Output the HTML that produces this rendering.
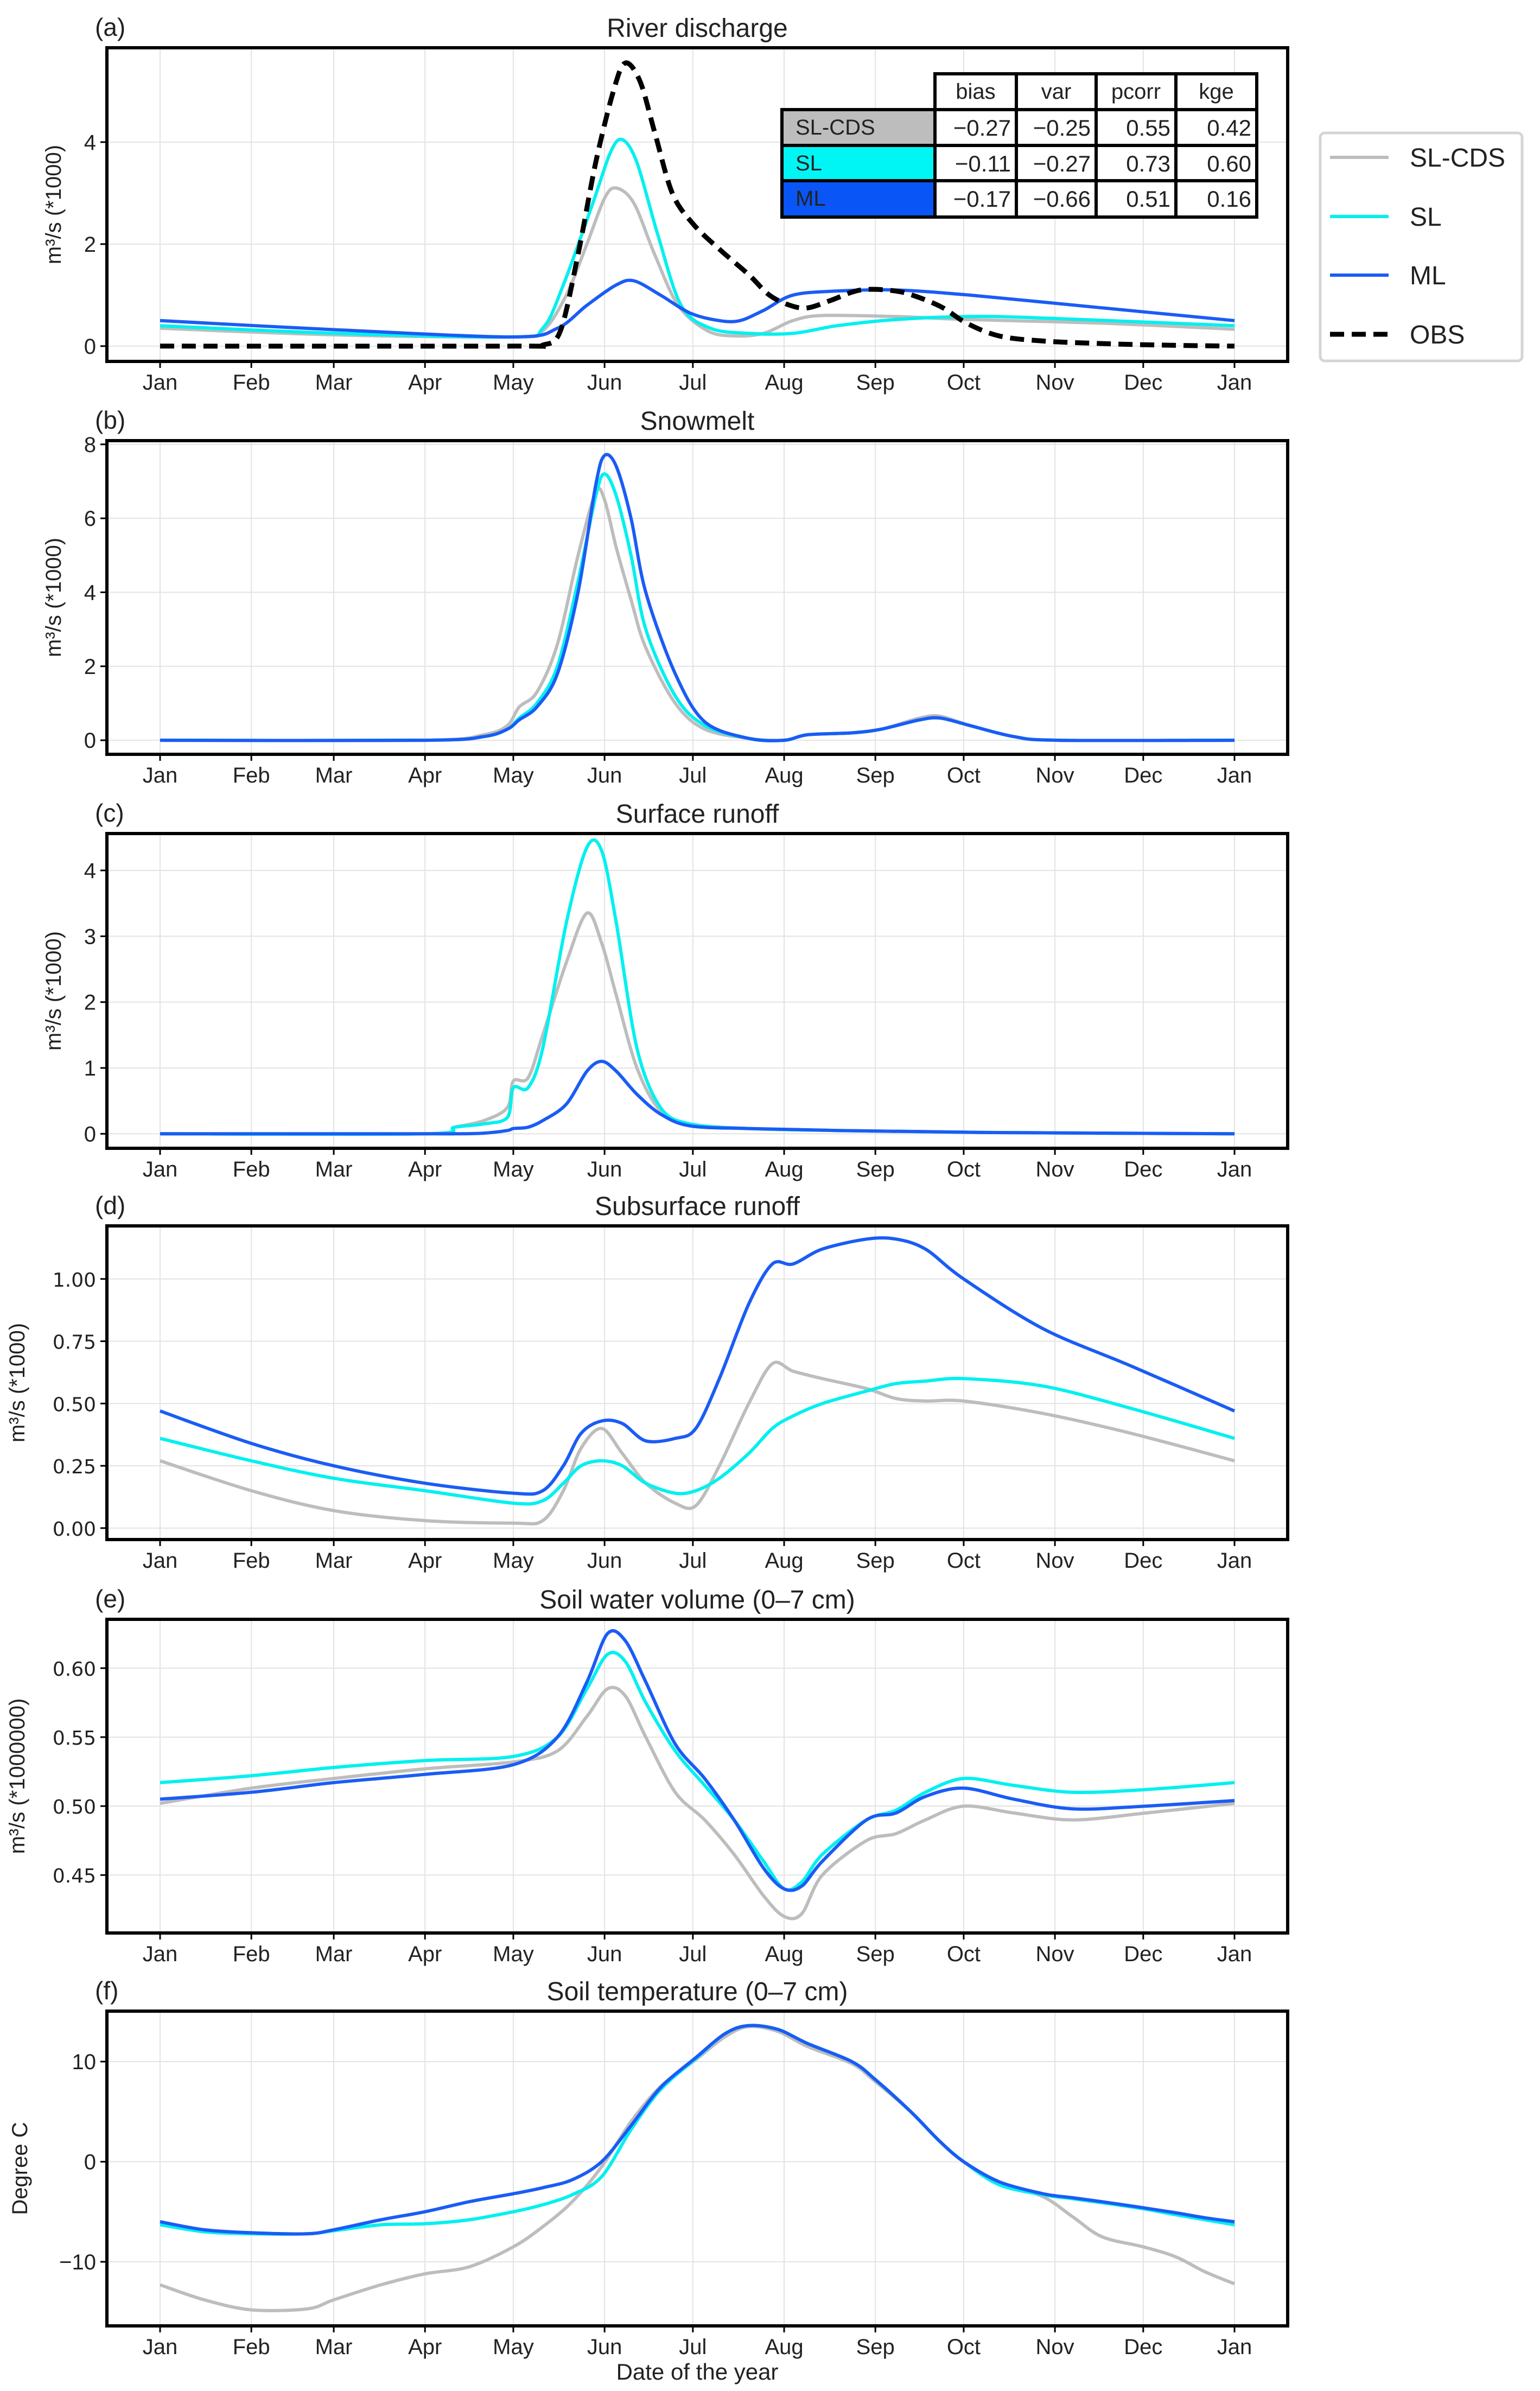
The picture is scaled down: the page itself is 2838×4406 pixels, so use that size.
<!DOCTYPE html>
<html><head><meta charset="utf-8">
<style>
html,body{margin:0;padding:0;background:#fff;}
svg{display:block;}
text{font-family:"Liberation Sans",sans-serif;fill:#222;}
</style></head>
<body>
<svg id="fig" width="2838" height="4406" viewBox="0 0 2838 4406" xmlns="http://www.w3.org/2000/svg"></svg>
<script>
// ---- data ----
const monthLabels = ["Jan","Feb","Mar","Apr","May","Jun","Jul","Aug","Sep","Oct","Nov","Dec","Jan"];
const monthDays = [0,31,59,90,120,151,181,212,243,273,304,334,365];
const seriesNames = ["SL-CDS","SL","ML","OBS"];

// (a) River discharge
const a_days_obs = [0,120,130,136,142,148,154,158,163,168,174,181,190,200,207,214,220,228,238,250,258,266,274,285,300,320,340,365];
const a_obs = [0,0,0.02,0.3,1.8,3.6,5.0,5.55,5.2,4.2,3.0,2.4,1.9,1.4,1.0,0.8,0.75,0.9,1.1,1.08,0.95,0.75,0.45,0.2,0.1,0.05,0.02,0];
const a_days_gray = [0,60,120,130,138,145,151,155,161,168,176,186,195,205,215,225,250,275,320,365];
const a_gray = [0.35,0.22,0.18,0.3,1.0,2.0,2.9,3.1,2.8,1.8,0.8,0.3,0.2,0.25,0.5,0.6,0.58,0.52,0.45,0.33];
const a_days_sl = [0,60,120,130,137,147,153,157,162,169,177,187,200,215,230,250,275,300,365];
const a_sl = [0.4,0.25,0.18,0.35,1.2,2.8,3.8,4.05,3.6,2.2,0.8,0.35,0.25,0.25,0.4,0.52,0.58,0.55,0.4];
const a_days_ml = [0,60,120,135,145,155,161,170,180,190,197,205,215,230,250,275,320,365];
const a_ml = [0.5,0.32,0.18,0.35,0.8,1.2,1.28,1.0,0.65,0.5,0.5,0.7,1.0,1.08,1.1,1.0,0.75,0.5];

// (b) Snowmelt
const b_days = [0,90,110,118,122,128,135,142,148,151,155,160,165,175,185,200,212,220,235,245,258,265,275,290,305,365];
const b_gray = [0,0,0.15,0.4,0.9,1.3,2.6,5.0,6.7,6.5,5.2,3.8,2.5,1.0,0.3,0.05,0,0.15,0.2,0.3,0.6,0.65,0.4,0.1,0,0];
const b_sl = [0,0,0.1,0.3,0.6,1.0,2.0,4.3,6.6,7.2,6.6,5.0,3.0,1.2,0.4,0.05,0,0.15,0.2,0.3,0.55,0.6,0.4,0.1,0,0];
const b_ml = [0,0,0.1,0.3,0.55,0.9,1.8,4.0,6.9,7.7,7.4,6.0,4.0,1.8,0.5,0.05,0,0.15,0.2,0.3,0.55,0.6,0.4,0.1,0,0];

// (c) Surface runoff
const c_days = [0,90,100,110,118,120,125,130,138,145,150,155,162,170,180,200,230,280,365];
const c_gray = [0,0,0.1,0.2,0.4,0.8,0.85,1.5,2.6,3.35,2.9,2.1,1.0,0.35,0.15,0.08,0.05,0.02,0];
const c_sl = [0,0,0.1,0.15,0.25,0.7,0.7,1.3,3.2,4.35,4.3,3.2,1.3,0.4,0.15,0.08,0.05,0.02,0];
const c_ml = [0,0,0,0.01,0.05,0.08,0.1,0.2,0.45,0.95,1.1,0.95,0.6,0.3,0.12,0.08,0.05,0.02,0];

// (d) Subsurface runoff
const d_days = [0,31,59,90,120,130,137,143,150,157,165,175,182,190,200,208,215,225,240,250,260,273,300,330,365];
const d_gray = [0.27,0.15,0.07,0.03,0.02,0.03,0.15,0.32,0.4,0.3,0.18,0.1,0.09,0.25,0.5,0.66,0.63,0.6,0.56,0.52,0.51,0.51,0.46,0.38,0.27];
const d_sl = [0.36,0.27,0.2,0.15,0.1,0.11,0.18,0.25,0.27,0.25,0.18,0.14,0.15,0.2,0.3,0.4,0.45,0.5,0.55,0.58,0.59,0.6,0.57,0.48,0.36];
const d_ml = [0.47,0.34,0.25,0.18,0.14,0.15,0.25,0.38,0.43,0.42,0.35,0.36,0.4,0.6,0.9,1.06,1.06,1.12,1.16,1.16,1.12,1.0,0.8,0.65,0.47];

// (e) Soil water volume
const e_days = [0,31,59,90,120,135,145,152,158,165,175,185,195,205,212,218,225,240,250,260,273,290,310,335,365];
const e_gray = [0.502,0.513,0.52,0.527,0.532,0.54,0.565,0.585,0.58,0.55,0.51,0.49,0.465,0.435,0.42,0.422,0.45,0.475,0.48,0.49,0.5,0.495,0.49,0.495,0.502];
const e_sl = [0.517,0.522,0.528,0.533,0.536,0.55,0.585,0.61,0.605,0.575,0.54,0.515,0.49,0.46,0.44,0.445,0.465,0.49,0.497,0.51,0.52,0.515,0.51,0.512,0.517];
const e_ml = [0.505,0.51,0.517,0.523,0.53,0.55,0.59,0.625,0.62,0.59,0.545,0.52,0.49,0.455,0.44,0.442,0.46,0.49,0.495,0.507,0.513,0.505,0.498,0.5,0.504];

// (f) Soil temperature
const f_days = [0,15,31,50,59,75,90,105,120,130,140,150,160,170,182,192,200,210,220,235,243,255,265,273,285,300,310,320,334,345,355,365];
const f_gray = [-12.3,-13.8,-14.8,-14.7,-13.8,-12.3,-11.2,-10.5,-8.5,-6.5,-4,-0.5,4,7.5,10.2,12.5,13.5,13,11.5,9.8,8,5,2,0,-2,-3.5,-5.5,-7.5,-8.5,-9.5,-11,-12.2];
const f_sl = [-6.3,-7.0,-7.2,-7.2,-6.9,-6.3,-6.2,-5.8,-5,-4.3,-3.3,-1.5,3.2,7.2,10.3,12.8,13.6,13.2,11.8,10,8.2,5,2,0,-2.3,-3.3,-3.7,-4.1,-4.7,-5.3,-5.8,-6.3];
const f_ml = [-6,-6.8,-7.1,-7.2,-6.8,-5.8,-5,-4,-3.2,-2.6,-1.8,0,3.6,7.4,10.4,12.8,13.6,13.2,11.8,10,8.2,5,2,0,-2,-3.2,-3.6,-4,-4.6,-5.1,-5.6,-6];

const a_yticks = [0,2,4], b_yticks=[0,2,4,6,8], c_yticks=[0,1,2,3,4];
const d_yticks = [0,0.25,0.5,0.75,1.0], e_yticks=[0.45,0.5,0.55,0.6], f_yticks=[-10,0,10];
const d_ylabels = ["0.00","0.25","0.50","0.75","1.00"], e_ylabels=["0.45","0.50","0.55","0.60"];

const tableCols = ["bias","var","pcorr","kge"];
const tableRows = ["SL-CDS","SL","ML"];
const tableVals = [["−0.27","−0.25","0.55","0.42"],["−0.11","−0.27","0.73","0.60"],["−0.17","−0.66","0.51","0.16"]];

// ---- layout ----
const NS="http://www.w3.org/2000/svg";
const svg=document.getElementById('fig');
const X0=197, X1=2373, DAY0=295, DAY1=2275;
const COL={gray:"#bdbdbd", sl:"#00f0f0", ml:"#1a5cf5", obs:"#000"};
function el(tag,attrs,parent){const e=document.createElementNS(NS,tag);for(const k in attrs)e.setAttribute(k,attrs[k]);(parent||svg).appendChild(e);return e;}
function xs(d){return DAY0+(d/365)*(DAY1-DAY0);}
function smoothPath(pts){
  let s="M"+pts[0][0].toFixed(1)+","+pts[0][1].toFixed(1);
  for(let i=0;i<pts.length-1;i++){
    const p0=pts[Math.max(0,i-1)],p1=pts[i],p2=pts[i+1],p3=pts[Math.min(pts.length-1,i+2)];
    const t=0.16;
    const c1=[p1[0]+(p2[0]-p0[0])*t,p1[1]+(p2[1]-p0[1])*t];
    const c2=[p2[0]-(p3[0]-p1[0])*t,p2[1]-(p3[1]-p1[1])*t];
    s+="C"+c1[0].toFixed(1)+","+c1[1].toFixed(1)+" "+c2[0].toFixed(1)+","+c2[1].toFixed(1)+" "+p2[0].toFixed(1)+","+p2[1].toFixed(1);
  }
  return s;
}
const panels=[
 {id:"a",title:"River discharge",top:88,bot:666,ymin:-0.3,ymax:5.85,ticks:a_yticks,labels:null,ylab:"m³/s (*1000)",ylx:112,
  series:[["gray",a_days_gray,a_gray],["sl",a_days_sl,a_sl],["ml",a_days_ml,a_ml],["obs",a_days_obs,a_obs]]},
 {id:"b",title:"Snowmelt",top:812,bot:1390,ymin:-0.38,ymax:8.1,ticks:b_yticks,labels:null,ylab:"m³/s (*1000)",ylx:112,
  series:[["gray",b_days,b_gray],["sl",b_days,b_sl],["ml",b_days,b_ml]]},
 {id:"c",title:"Surface runoff",top:1536,bot:2116,ymin:-0.22,ymax:4.56,ticks:c_yticks,labels:null,ylab:"m³/s (*1000)",ylx:112,
  series:[["gray",c_days,c_gray],["sl",c_days,c_sl],["ml",c_days,c_ml]]},
 {id:"d",title:"Subsurface runoff",top:2259,bot:2837,ymin:-0.046,ymax:1.213,ticks:d_yticks,labels:d_ylabels,ylab:"m³/s (*1000)",ylx:45,
  series:[["gray",d_days,d_gray],["sl",d_days,d_sl],["ml",d_days,d_ml]]},
 {id:"e",title:"Soil water volume (0–7 cm)",top:2984,bot:3562,ymin:0.408,ymax:0.6354,ticks:e_yticks,labels:e_ylabels,ylab:"m³/s (*1000000)",ylx:45,
  series:[["gray",e_days,e_gray],["sl",e_days,e_sl],["ml",e_days,e_ml]]},
 {id:"f",title:"Soil temperature (0–7 cm)",top:3706,bot:4286,ymin:-16.4,ymax:15.04,ticks:f_yticks,labels:null,ylab:"Degree C",ylx:50,
  series:[["gray",f_days,f_gray],["sl",f_days,f_sl],["ml",f_days,f_ml]]}
];
panels.forEach(p=>{
  const g=el('g',{});
  
  
  const ys=v=>p.bot-(v-p.ymin)/(p.ymax-p.ymin)*(p.bot-p.top);
  monthDays.forEach(d=>{const l=el('line',{x1:xs(d),x2:xs(d),y1:p.top,y2:p.bot,stroke:"#e3e3e3","stroke-width":2},g);
    });
  p.ticks.forEach((v,i)=>{
    const l=el('line',{x1:X0,x2:X1,y1:ys(v),y2:ys(v),stroke:"#e3e3e3","stroke-width":2},g);
    
    el('line',{x1:X0-12,x2:X0,y1:ys(v),y2:ys(v),stroke:"#000","stroke-width":3},g);
    const t=el('text',{x:X0-20,y:ys(v)+14,"text-anchor":"end","font-size":40,style:p.labels?'font-family:"DejaVu Sans",sans-serif;font-size:36px':''},g);
    t.textContent=p.labels?p.labels[i]:(v<0?"−"+Math.abs(v):String(v));
    
  });
  monthDays.forEach((d,i)=>{
    el('line',{x1:xs(d),x2:xs(d),y1:p.bot,y2:p.bot+12,stroke:"#000","stroke-width":3},g);
    const t=el('text',{x:xs(d),y:p.bot+52,"text-anchor":"middle","font-size":40},g);
    t.textContent=monthLabels[i];
    
  });
  p.series.forEach(s=>{
    const pts=s[1].map((d,i)=>[xs(d),ys(s[2][i])]);
    const attrs={d:smoothPath(pts),fill:"none",stroke:COL[s[0]],"stroke-width":s[0]=="obs"?9:6,"stroke-linejoin":"round"};
    if(s[0]=="obs")attrs["stroke-dasharray"]="26 14";
    const path=el('path',attrs,g);
    
    
  });
  const fr=el('rect',{x:X0,y:p.top,width:X1-X0,height:p.bot-p.top,fill:"none",stroke:"#000","stroke-width":6},g);
  
  const tt=el('text',{x:(X0+X1)/2,y:p.top-20,"text-anchor":"middle","font-size":48},g);
  tt.textContent=p.title;
  const pl=el('text',{x:175,y:p.top-22,"font-size":46},g);
  pl.textContent="("+p.id+")";
  const cy=(p.top+p.bot)/2;
  const yl=el('text',{x:p.ylx,y:cy,"text-anchor":"middle","font-size":40,transform:"rotate(-90 "+p.ylx+" "+cy+")"},g);
  yl.textContent=p.ylab;
});
const xl=el('text',{x:(X0+X1)/2,y:4385,"text-anchor":"middle","font-size":42});
xl.textContent="Date of the year";



const tg=el('g',{});


const colX=[1723,1873,2020,2167,2316], rowY=[136,202,268,333,400], labX=1441;
const rowFill=["#bdbdbd","#00f5f5","#0a55f5"];
tableCols.forEach((c,i)=>{
  el('rect',{x:colX[i],y:rowY[0],width:colX[i+1]-colX[i],height:rowY[1]-rowY[0],fill:"#fff",stroke:"#000","stroke-width":6},tg);
  const t=el('text',{x:(colX[i]+colX[i+1])/2,y:rowY[0]+46,"text-anchor":"middle","font-size":40},tg);t.textContent=c;
  
});
tableRows.forEach((r,j)=>{
  el('rect',{x:labX,y:rowY[j+1],width:colX[0]-labX,height:rowY[j+2]-rowY[j+1],fill:rowFill[j],stroke:"#000","stroke-width":6},tg);
  const t=el('text',{x:labX+25,y:rowY[j+1]+46,"font-size":40},tg);t.textContent=r;
  
  tableVals[j].forEach((v,i)=>{
    el('rect',{x:colX[i],y:rowY[j+1],width:colX[i+1]-colX[i],height:rowY[j+2]-rowY[j+1],fill:"#fff",stroke:"#000","stroke-width":6},tg);
    const tv=el('text',{x:colX[i+1]-10,y:rowY[j+1]+48,"text-anchor":"end","font-size":42},tg);tv.textContent=v;
    
  });
});

const lg=el('g',{});


el('rect',{x:2433,y:245,width:372,height:420,rx:8,fill:"#fff",stroke:"#d5d5d5","stroke-width":5},lg);
const legY=[290,399,507,616], legC=["gray","sl","ml","obs"];
seriesNames.forEach((n,i)=>{
  const la={x1:2451,x2:2559,y1:legY[i],y2:legY[i],stroke:COL[legC[i]],"stroke-width":legC[i]=="obs"?9:6};
  if(legC[i]=="obs")la["stroke-dasharray"]="26 14";
  el('line',la,lg);
  const t=el('text',{x:2598,y:legY[i]+17,"font-size":48},lg);t.textContent=n;
  
});
</script>
</body></html>
